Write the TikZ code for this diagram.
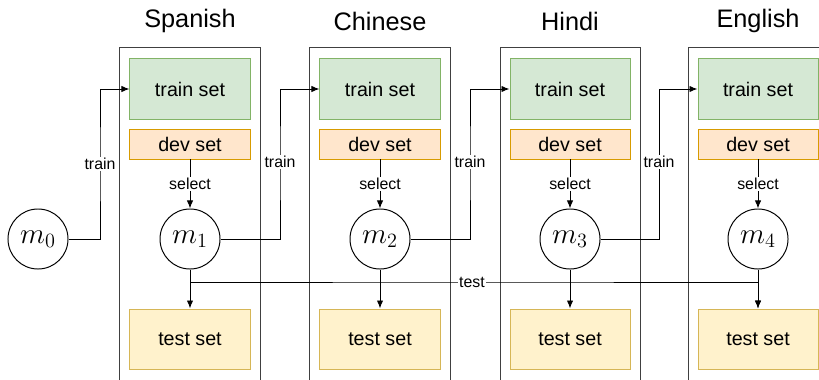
\documentclass[tikz,border=0pt]{standalone}
\usepackage{fontspec}
\setmainfont{Liberation Sans}
\usetikzlibrary{calc,arrows.meta}
\definecolor{trainfill}{HTML}{D5E8D4}
\definecolor{traindraw}{HTML}{82B366}
\definecolor{devfill}{HTML}{FFE6CC}
\definecolor{devdraw}{HTML}{D79B00}
\definecolor{testfill}{HTML}{FFF2CC}
\definecolor{testdraw}{HTML}{D6B656}
\definecolor{coldraw}{HTML}{404040}

\begin{document}
\begin{tikzpicture}[
 x=0.025cm, y=-0.025cm,
 line width=0.7pt,
 >={Latex[length=2mm,width=1.6mm]},
 align=center,
 inner sep=1mm,
 column/.style={draw=coldraw,rectangle,minimum width=3.5cm,minimum height=8.8cm},
 title/.style={font=\fontsize{18}{20}\selectfont},
 trainbox/.style={draw=traindraw,fill=trainfill,rectangle,minimum width=3cm,minimum height=1.5cm,font=\fontsize{14}{16}\selectfont},
 devbox/.style={draw=devdraw,fill=devfill,rectangle,minimum width=3cm,minimum height=0.75cm,font=\fontsize{14}{16}\selectfont},
 testbox/.style={draw=testdraw,fill=testfill,rectangle,minimum width=3cm,minimum height=1.5cm,font=\fontsize{14}{16}\selectfont},
 model/.style={draw=black,circle,fill=white,minimum size=1.5cm,inner sep=0pt,font=\fontsize{20}{22}\selectfont},
 lbl/.style={fill=white,inner sep=1pt,font=\fontsize{11.3}{13}\selectfont}
]
\useasboundingbox (0,0) rectangle (819,380);
% columns
\node (col-es) [column] at (190,224) {};
\node (col-zh) [column] at (380,224) {};
\node (col-hi) [column] at (570,224) {};
\node (col-en) [column] at (758,224) {};
\node (title-es) [title] at (190,21) {Spanish};
\node (title-zh) [title] at (380,21) {Chinese};
\node (title-hi) [title] at (570,21) {Hindi};
\node (title-en) [title] at (758,21) {English};
% data sets
\node (train-es) [trainbox] at (190,89) {train set};
\node (train-zh) [trainbox] at (380,89) {train set};
\node (train-hi) [trainbox] at (570,89) {train set};
\node (train-en) [trainbox] at (758,89) {train set};
\node (dev-es) [devbox] at (190,144) {dev set};
\node (dev-zh) [devbox] at (380,144) {dev set};
\node (dev-hi) [devbox] at (570,144) {dev set};
\node (dev-en) [devbox] at (758,144) {dev set};
\node (test-es) [testbox] at (190,339) {test set};
\node (test-zh) [testbox] at (380,339) {test set};
\node (test-hi) [testbox] at (570,339) {test set};
\node (test-en) [testbox] at (758,339) {test set};
% models
\node (m-0) [model] at (38,239) {$m_0$};
\node (m-1) [model] at (190,239) {$m_1$};
\node (m-2) [model] at (380,239) {$m_2$};
\node (m-3) [model] at (570,239) {$m_3$};
\node (m-4) [model] at (758,239) {$m_4$};
% train
\coordinate (turn-1) at (100,164);
\coordinate (turn-2) at (280,162);
\coordinate (turn-3) at (470,162);
\coordinate (turn-4) at (659,162);
\draw[->] (m-0.east) -| (turn-1) node [lbl] {train} |- (train-es.west);
\draw[->] (m-1.east) -| (turn-2) node [lbl] {train} |- (train-zh.west);
\draw[->] (m-2.east) -| (turn-3) node [lbl] {train} |- (train-hi.west);
\draw[->] (m-3.east) -| (turn-4) node [lbl] {train} |- (train-en.west);
% select
\draw[->] (dev-es) -- node [lbl] {select} (m-1);
\draw[->] (dev-zh) -- node [lbl] {select} (m-2);
\draw[->] (dev-hi) -- node [lbl] {select} (m-3);
\draw[->] (dev-en) -- node [lbl] {select} (m-4);
% test
\draw[->] (m-1) -- (test-es);
\draw[->] (m-2) -- (test-zh);
\draw[->] (m-3) -- (test-hi);
\draw[->] (m-4) -- (test-en);
\coordinate (test-turn) at (472,282);
\draw[->] (m-1.south) |- (test-turn) node [lbl] {test} -| (test-en.north);
\end{tikzpicture}
\end{document}
